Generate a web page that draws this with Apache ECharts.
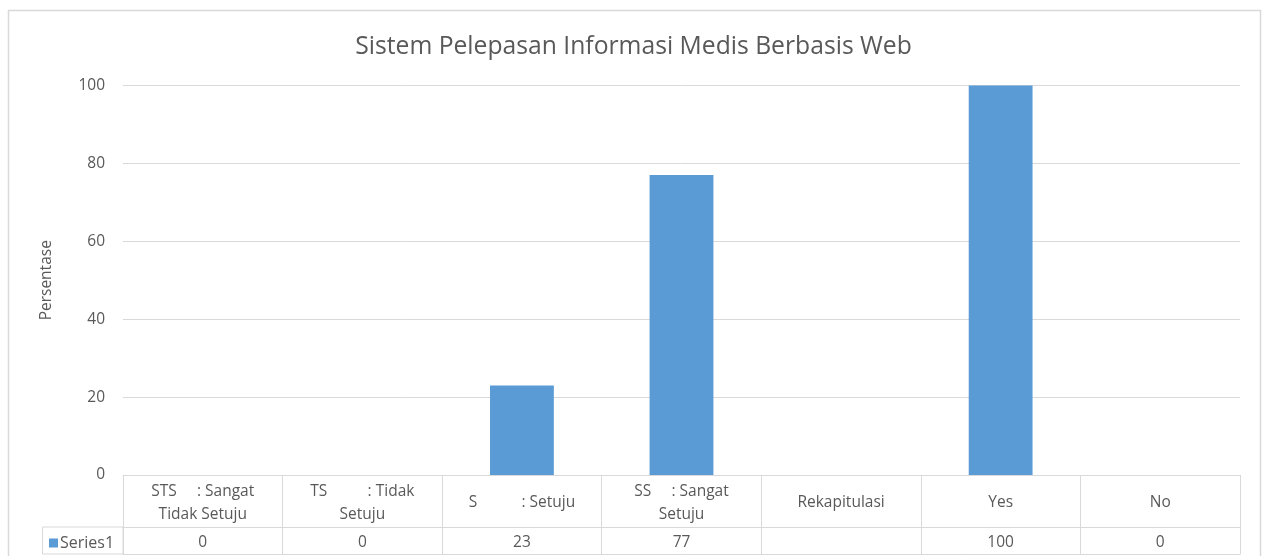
<!DOCTYPE html>
<html>
<head>
<meta charset="utf-8">
<script src="https://cdn.jsdelivr.net/npm/echarts@6/dist/echarts.min.js"></script>
<style>html,body{margin:0;padding:0;background:#fff;}#c{width:1267px;height:556px;}</style>
</head>
<body>
<div id="c"></div>
<script>
const titleText = 'Sistem Pelepasan Informasi Medis Berbasis Web';
const categories = [
  'STS     : Sangat\nTidak Setuju',
  'TS          : Tidak\nSetuju',
  'S           : Setuju',
  'SS     : Sangat\nSetuju',
  'Rekapitulasi',
  'Yes',
  'No'
];
const series1 = [0, 0, 23, 77, null, 100, 0];
const yTicks = [0, 20, 40, 60, 80, 100];
const seriesName = 'Series1';
const yName = 'Persentase';

const FONT = 'Open Sans';
const TXT = '#595959';
const LINE = '#D9D9D9';
const BAR = '#5B9BD5';

const chart = echarts.init(document.getElementById('c'));
chart.setOption({
  animation: false,
  textStyle: { fontFamily: FONT },
  title: {
    text: titleText, left: 'center', top: 29,
    textStyle: { fontFamily: FONT, fontSize: 24.7, fontWeight: 'normal', color: TXT }
  },
  legend: {
    data: [seriesName], left: 44, top: 530, icon: 'rect', itemWidth: 9, itemHeight: 9, itemGap: 4,
    textStyle: { fontFamily: FONT, fontSize: 16, color: TXT, padding: [0, 0, 0, -3] },
    selectedMode: false
  },
  graphic: [
    { type: 'rect', shape: { x: 8.5, y: 10.5, width: 1252, height: 560 }, style: { fill: 'none', stroke: LINE, lineWidth: 1.5 }, silent: true },
    { type: 'rect', shape: { x: 42.5, y: 527, width: 80.5, height: 27 }, style: { fill: 'none', stroke: LINE, lineWidth: 1 }, silent: true }
  ],
  grid: { left: 123, right: 27, top: 85.5, bottom: 81 },
  xAxis: [
    {
      type: 'category', data: categories, position: 'bottom',
      axisLine: { lineStyle: { color: LINE, width: 1 } },
      axisTick: { show: true, interval: 0, length: 79, lineStyle: { color: LINE } },
      axisLabel: { interval: 0, margin: 28, verticalAlign: 'middle', lineHeight: 23, color: TXT, fontSize: 15.5, fontFamily: FONT }
    },
    {
      type: 'category', data: categories, position: 'bottom', offset: 52,
      axisLine: { lineStyle: { color: LINE, width: 1 } },
      axisTick: { show: false },
      axisLabel: { interval: 0, margin: 15.5, verticalAlign: 'middle', color: TXT, fontSize: 15.5, fontFamily: FONT,
        formatter: (v, i) => series1[i] == null ? '' : String(series1[i]) }
    },
    {
      type: 'category', data: categories, position: 'bottom', offset: 79,
      axisLine: { lineStyle: { color: LINE, width: 1 } },
      axisTick: { show: false }, axisLabel: { show: false }
    }
  ],
  yAxis: {
    type: 'value', min: yTicks[0], max: yTicks[yTicks.length - 1], interval: yTicks[1] - yTicks[0],
    name: yName, nameLocation: 'middle', nameGap: 68, nameRotate: 90,
    nameTextStyle: { color: TXT, fontSize: 15.5, fontFamily: FONT },
    axisLine: { show: false }, axisTick: { show: false },
    axisLabel: { margin: 18, color: TXT, fontSize: 15.5, fontFamily: FONT },
    splitLine: { lineStyle: { color: LINE, width: 1 } }
  },
  series: [{
    name: seriesName, type: 'bar', data: series1, barWidth: '40%', xAxisIndex: 0,
    itemStyle: { color: BAR }
  }]
});
</script>
</body>
</html>
